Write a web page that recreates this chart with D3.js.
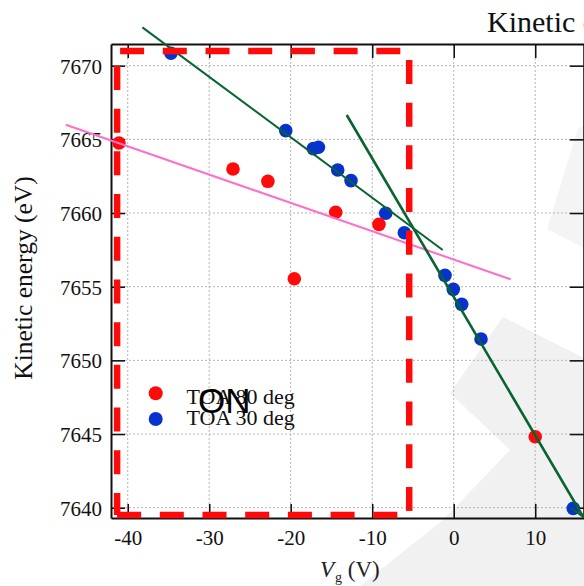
<!DOCTYPE html>
<html><head><meta charset="utf-8">
<script src="https://cdn.jsdelivr.net/npm/d3@7"></script>
<style>html,body{margin:0;padding:0;background:#fff;overflow:hidden}
svg text{font-family:'Liberation Serif',serif}</style>
</head><body>
<script>
// ---- data ----
const xTicks = [-40, -30, -20, -10, 0, 10];
const yTicks = [7640, 7645, 7650, 7655, 7660, 7665, 7670];
const toa80 = [[-41.07,7664.75],[-27.08,7662.99],[-22.8,7662.15],[-19.56,7655.54],[-14.48,7660.05],[-9.17,7659.23],[10.0,7644.81]];
const toa30 = [[-34.69,7670.84],[-20.61,7665.59],[-17.23,7664.37],[-16.6,7664.46],[-14.23,7662.92],[-12.6,7662.2],[-8.34,7659.98],[-6.06,7658.66],[-1.07,7655.77],[-0.05,7654.82],[0.98,7653.8],[3.35,7651.45],[14.67,7639.95]];
const pinkFit = [[-47.6,7665.99],[6.99,7655.5]];
const greenFitA = [[-38.2,7672.6],[-1.35,7657.49]];
const greenFitB = [[-13.13,7666.65],[15.95,7639.32]];
const greenFitC = [[14.35,7640.0],[15.95,7639.35]];
const onBox = {x0:-41.3, x1:-5.46, y0:7639.5, y1:7671.0};
const legendLabels = ["TOA 80 deg", "TOA 30 deg"];
const watermarkA = [[503,317],[584,358],[584,586],[360,586],[443,520],[510,450],[450,393]];
const watermarkB = [[578,128],[584,126],[584,248],[547,229],[556,200]];

const W = 584, H = 586;
const x = d3.scaleLinear().domain([-42.05, 15.95]).range([111, 583.7]);
const y = d3.scaleLinear().domain([7639.3, 7671.47]).range([518, 44]);
const serif = "'Liberation Serif', serif";
const fmt = d => String(d);

const svg = d3.select("body").append("svg").attr("width", W).attr("height", H);

// watermark (pixel-space decoration)
const px = p => [x.invert(p[0]), y.invert(p[1])];
[[watermarkA,"#f1f1f2"],[watermarkB,"#f4f4f4"]].forEach(([poly,c])=>{
  svg.append("path").attr("d", d3.line().x(d=>x(d[0])).y(d=>y(d[1]))(poly.map(px)) + "Z").attr("fill", c);
});

const tl = 14;
// grid
const g = svg.append("g");
g.selectAll(".gx").data(xTicks).join("line")
  .attr("x1", d=>x(d)).attr("x2", d=>x(d)).attr("y1", y.range()[1]+tl).attr("y2", y.range()[0]-tl)
  .attr("stroke", "#b5b5b5").attr("stroke-width", 1).attr("stroke-dasharray", "2,2");
g.selectAll(".gy").data(yTicks).join("line")
  .attr("y1", d=>y(d)).attr("y2", d=>y(d)).attr("x1", x.range()[0]+tl).attr("x2", x.range()[1]-tl)
  .attr("stroke", "#b5b5b5").attr("stroke-width", 1).attr("stroke-dasharray", "2,2");

// axes with inward ticks
const axB = d3.axisBottom(x).tickValues(xTicks).tickSizeInner(-tl).tickSizeOuter(0).tickFormat(fmt);
const axT = d3.axisTop(x).tickValues(xTicks).tickSizeInner(-tl).tickSizeOuter(0).tickFormat("");
const axL = d3.axisLeft(y).tickValues(yTicks).tickSizeInner(-tl).tickSizeOuter(0).tickFormat(fmt);
const axR = d3.axisRight(y).tickValues(yTicks).tickSizeInner(-tl).tickSizeOuter(0).tickFormat("");
function style(sel){
  sel.attr("font-family", serif).attr("font-size", 21);
  sel.select(".domain").attr("stroke","#111").attr("stroke-width",2);
  sel.selectAll(".tick line").attr("stroke","#111").attr("stroke-width",1.6);
  sel.selectAll(".tick text").attr("fill","#111").attr("font-family",serif).style("font-family",serif).style("font-size","21px");
}
const gB = svg.append("g").attr("transform",`translate(0,${y.range()[0]})`).call(axB).call(style);
gB.selectAll(".tick text").attr("y", 27).attr("dy", 0);
svg.append("g").attr("transform",`translate(0,${y.range()[1]})`).call(axT).call(style);
const gL = svg.append("g").attr("transform",`translate(${x.range()[0]},0)`).call(axL).call(style);
gL.selectAll(".tick text").attr("x", -9).attr("dy", "0.35em");
svg.append("g").attr("transform",`translate(${x.range()[1]},0)`).call(axR).call(style);

// points (blue then red)
svg.append("g").selectAll("circle").data(toa30).join("circle")
  .attr("cx", d=>x(d[0])).attr("cy", d=>y(d[1])).attr("r", 6.8).attr("fill", "#0733cc");
svg.append("g").selectAll("circle").data(toa80).join("circle")
  .attr("cx", d=>x(d[0])).attr("cy", d=>y(d[1])).attr("r", 6.8).attr("fill", "#ff0a0a");

// fit lines
const line = d3.line().x(d=>x(d[0])).y(d=>y(d[1]));
svg.append("path").attr("d", line(pinkFit)).attr("stroke", "#ff6ec7").attr("stroke-width", 2).attr("fill","none");
svg.append("path").attr("d", line(greenFitA)).attr("stroke", "#07642f").attr("stroke-width", 2).attr("fill","none");
svg.append("path").attr("d", line(greenFitB)).attr("stroke", "#07642f").attr("stroke-width", 2.6).attr("fill","none");
svg.append("path").attr("d", line(greenFitC)).attr("stroke", "#07642f").attr("stroke-width", 2).attr("fill","none");

// red dashed "ON" region
const sides = [
  {a:[onBox.x0,onBox.y1], b:[onBox.x1,onBox.y1], off:-3},
  {a:[onBox.x1,onBox.y1], b:[onBox.x1,onBox.y0], off:-9},
  {a:[onBox.x0,onBox.y0], b:[onBox.x1,onBox.y0], off:0},
  {a:[onBox.x0,onBox.y1], b:[onBox.x0,onBox.y0], off:-15}
];
svg.append("g").selectAll("line").data(sides).join("line")
  .attr("x1", d=>x(d.a[0])).attr("y1", d=>y(d.a[1])).attr("x2", d=>x(d.b[0])).attr("y2", d=>y(d.b[1]))
  .attr("stroke", "#ff0a0a").attr("stroke-width", 6.5).attr("stroke-dasharray", "24,18.7")
  .attr("stroke-dashoffset", d=>d.off);

// legend
const leg = svg.append("g");
const legColors = ["#ff0a0a", "#0733cc"];
legendLabels.forEach((t,i)=>{
  leg.append("circle").attr("cx", 155.7).attr("cy", 393.3 + i*25.7).attr("r", 7).attr("fill", legColors[i]);
  leg.append("text").attr("x", 186.5).attr("y", 403.5 + i*21.5).style("font-family", serif).style("font-size","22px").attr("fill","#111").text(t);
});
svg.append("text").attr("x", 198).attr("y", 413).style("font-family","'Liberation Sans',sans-serif").style("font-size","35px").attr("fill","#000").text("ON");

// labels
svg.append("text").attr("x", 487).attr("y", 32).style("font-family", serif).style("font-size","30px").attr("fill","#111").text("Kinetic energy");
svg.append("text").attr("transform","translate(32,278) rotate(-90)").attr("text-anchor","middle")
  .style("font-family", serif).style("font-size","25.5px").attr("fill","#111").text("Kinetic energy (eV)");
const xl = svg.append("text").attr("x", 320).attr("y", 577).style("font-family", serif).style("font-size","23px").attr("fill","#222");
xl.append("tspan").attr("font-style","italic").text("V");
xl.append("tspan").style("font-size","14px").attr("dy", 5).attr("dx", 1).text("g");
xl.append("tspan").attr("dy", -5).text(" (V)");
</script>
</body></html>
